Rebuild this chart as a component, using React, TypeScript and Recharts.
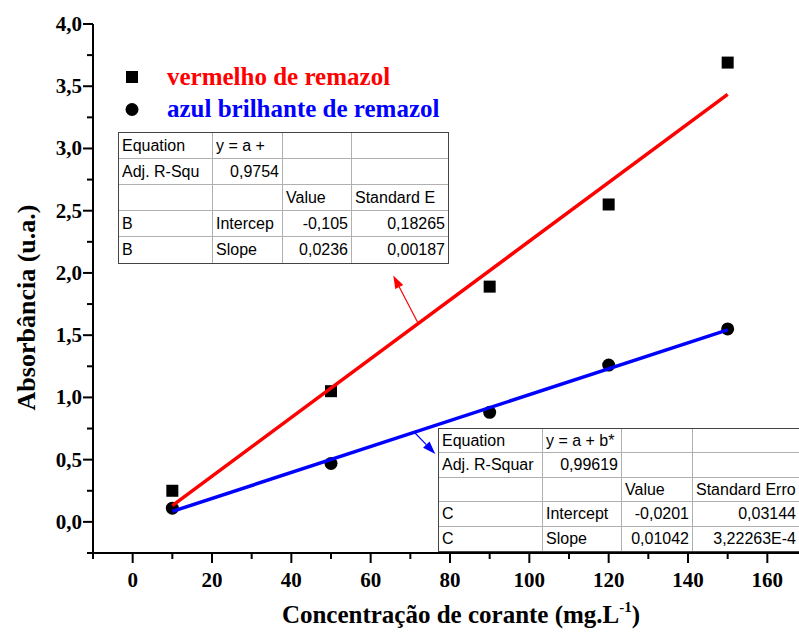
import { ComposedChart, Line, Scatter, XAxis, YAxis, ReferenceLine } from 'recharts';

const concentrations = [10, 50, 90, 120, 150];
const redAbsorbance = [0.25, 1.05, 1.89, 2.55, 3.69];
const blueAbsorbance = [0.11, 0.47, 0.88, 1.26, 1.55];

// linear fit parameters as reported in the stats tables
const redIntercept = -0.105;
const redSlope = 0.0236;
const blueIntercept = -0.0201;
const blueSlope = 0.01042;
const fitRange = [10, 150];

const xTicks = [-10, 0, 10, 20, 30, 40, 50, 60, 70, 80, 90, 100, 110, 120, 130, 140, 150, 160, 170];
const yTicks = [-0.25, 0, 0.25, 0.5, 0.75, 1, 1.25, 1.5, 1.75, 2, 2.25, 2.5, 2.75, 3, 3.25, 3.5, 3.75, 4];

// callout arrows: [line point, tip near table]
const redArrow = [{ x: 72, y: 1.594 }, { x: 65.7, y: 1.98 }];
const blueArrow = [{ x: 71, y: 0.72 }, { x: 76.3, y: 0.545 }];

const redTableRows = [
  ['Equation', 'y = a +', '', ''],
  ['Adj. R-Squ', '0,9754', '', ''],
  ['', '', 'Value', 'Standard E'],
  ['B', 'Intercep', '-0,105', '0,18265'],
  ['B', 'Slope', '0,0236', '0,00187'],
];
const blueTableRows = [
  ['Equation', 'y = a + b*', '', ''],
  ['Adj. R-Squar', '0,99619', '', ''],
  ['', '', 'Value', 'Standard Erro'],
  ['C', 'Intercept', '-0,0201', '0,03144'],
  ['C', 'Slope', '0,01042', '3,22263E-4'],
];

const redPoints = concentrations.map((x, i) => ({ x, y: redAbsorbance[i] }));
const bluePoints = concentrations.map((x, i) => ({ x, y: blueAbsorbance[i] }));
const redFit = fitRange.map((x) => ({ x, y: redIntercept + redSlope * x }));
const blueFit = fitRange.map((x) => ({ x, y: blueIntercept + blueSlope * x }));

const SERIF = '"Liberation Serif", "Times New Roman", serif';
const SANS = '"Liberation Sans", Arial, sans-serif';

function BottomTick({ x, y, payload }: any) {
  const v = payload.value;
  const major = v % 20 === 0 && v >= 0 && v <= 160;
  return (
    <g>
      <line x1={x} x2={x} y1={y} y2={y + (major ? 10 : 6)} stroke="#000" strokeWidth={2} />
      {major && (
        <text x={x} y={y + 34} textAnchor="middle" fontFamily={SERIF} fontWeight="bold" fontSize={21} fill="#000">
          {v}
        </text>
      )}
    </g>
  );
}

function TopTick({ x, y }: any) {
  return <line x1={x} x2={x} y1={y} y2={y + 3} stroke="#000" strokeWidth={1} />;
}

function LeftTick({ x, y, payload }: any) {
  const v = payload.value;
  const major = Math.abs(v * 2 - Math.round(v * 2)) < 1e-6;
  return (
    <g>
      <line x1={x} x2={x - (major ? 10 : 6)} y1={y} y2={y} stroke="#000" strokeWidth={2} />
      {major && (
        <text x={x - 11} y={y + 7} textAnchor="end" fontFamily={SERIF} fontWeight="bold" fontSize={21} fill="#000">
          {v.toFixed(1).replace('.', ',')}
        </text>
      )}
    </g>
  );
}

function XTitle({ viewBox }: any) {
  const cx = viewBox.x + viewBox.width / 2 + 11;
  return (
    <text x={cx} y={viewBox.y + 70} textAnchor="middle" fontFamily={SERIF} fontWeight="bold" fontSize={25} fill="#000">
      Concentração de corante (mg.L
      <tspan fontSize={15} dy={-11}>-1</tspan>
      <tspan dy={11}>)</tspan>
    </text>
  );
}

function YTitle({ viewBox }: any) {
  const cx = 35;
  const cy = viewBox.y + viewBox.height / 2 + 19;
  return (
    <text
      x={cx}
      y={cy}
      transform={`rotate(-90, ${cx}, ${cy})`}
      textAnchor="middle"
      fontFamily={SERIF}
      fontWeight="bold"
      fontSize={26}
      fill="#000"
    >
      Absorbância (u.a.)
    </text>
  );
}

function SquareDot({ cx, cy }: any) {
  return <rect x={cx - 6} y={cy - 6} width={12} height={12} fill="#000" />;
}

function RoundDot({ cx, cy }: any) {
  return <circle cx={cx} cy={cy} r={6.5} fill="#000" />;
}

function ArrowShape({ x1, y1, x2, y2, stroke }: any) {
  const ang = Math.atan2(y2 - y1, x2 - x1);
  const len = 13;
  const half = 4.5;
  const bx = x2 - len * Math.cos(ang);
  const by = y2 - len * Math.sin(ang);
  const pts = [
    [x2, y2],
    [bx + half * Math.sin(ang), by - half * Math.cos(ang)],
    [bx - half * Math.sin(ang), by + half * Math.cos(ang)],
  ]
    .map((p) => p.join(','))
    .join(' ');
  return (
    <g>
      <line x1={x1} y1={y1} x2={bx} y2={by} stroke={stroke} strokeWidth={1.2} />
      <polygon points={pts} fill={stroke} />
    </g>
  );
}

function StatsTable({ rows, left, top, widths, rowH, fontSize }: any) {
  const isNum = (s: string) => /^-?[\d,]+(E-?\d+)?$/.test(s);
  return (
    <div
      style={{
        position: 'absolute',
        left,
        top,
        border: '1.5px solid #444',
        background: '#fff',
        fontFamily: SANS,
        fontSize,
        color: '#000',
      }}
    >
      {rows.map((row: string[], r: number) => (
        <div key={r} style={{ display: 'flex' }}>
          {row.map((cell, c) => (
            <div
              key={c}
              style={{
                width: widths[c],
                height: rowH,
                lineHeight: `${rowH}px`,
                boxSizing: 'border-box',
                borderRight: c < row.length - 1 ? '1px solid #b0b0b0' : 'none',
                borderBottom: r < rows.length - 1 ? '1px solid #b0b0b0' : 'none',
                padding: '0 3px',
                overflow: 'hidden',
                whiteSpace: 'nowrap',
                textAlign: isNum(cell) ? 'right' : 'left',
              }}
            >
              {cell}
            </div>
          ))}
        </div>
      ))}
    </div>
  );
}

export default function App() {
  return (
    <div
      style={{
        position: 'absolute',
        left: 0,
        top: 0,
        width: 799,
        height: 633,
        overflow: 'hidden',
        background: '#fff',
      }}
    >
      <ComposedChart width={830} height={633} margin={{ top: 24, right: 23, bottom: 50, left: 0 }}>
        <XAxis
          xAxisId="b"
          dataKey="x"
          type="number"
          domain={[-10, 170]}
          ticks={xTicks}
          interval={0}
          allowDataOverflow
          height={30}
          tickSize={0}
          tickMargin={0}
          tickLine={false}
          axisLine={{ stroke: '#000', strokeWidth: 2 }}
          tick={<BottomTick />}
          label={<XTitle />}
        />
        <XAxis
          xAxisId="t"
          orientation="top"
          dataKey="x"
          type="number"
          domain={[-10, 170]}
          ticks={xTicks}
          interval={0}
          allowDataOverflow
          height={0}
          tickSize={0}
          tickMargin={0}
          tickLine={false}
          axisLine={{ stroke: '#000', strokeWidth: 2 }}
          tick={<TopTick />}
        />
        <YAxis
          dataKey="y"
          type="number"
          domain={[-0.25, 4]}
          ticks={yTicks}
          interval={0}
          allowDataOverflow
          width={93}
          tickSize={0}
          tickMargin={0}
          tickLine={false}
          axisLine={{ stroke: '#000', strokeWidth: 2 }}
          tick={<LeftTick />}
          label={<YTitle />}
        />
        <Scatter xAxisId="b" data={redPoints} shape={<SquareDot />} isAnimationActive={false} />
        <Scatter xAxisId="b" data={bluePoints} shape={<RoundDot />} isAnimationActive={false} />
        <Line
          xAxisId="b"
          data={redFit}
          dataKey="y"
          type="linear"
          stroke="#ff0000"
          strokeWidth={3.5}
          dot={false}
          activeDot={false}
          isAnimationActive={false}
          zIndex={700}
        />
        <Line
          xAxisId="b"
          data={blueFit}
          dataKey="y"
          type="linear"
          stroke="#0000ff"
          strokeWidth={3.5}
          dot={false}
          activeDot={false}
          isAnimationActive={false}
          zIndex={700}
        />
        <ReferenceLine xAxisId="b" segment={redArrow} stroke="#ff0000" shape={ArrowShape} />
        <ReferenceLine xAxisId="b" segment={blueArrow} stroke="#0000ff" shape={ArrowShape} />
      </ComposedChart>

      <svg width={799} height={633} style={{ position: 'absolute', left: 0, top: 0, pointerEvents: 'none' }}>
        <rect x={126} y={71} width={12} height={12} fill="#000" />
        <text x={167} y={85} fontFamily={SERIF} fontWeight="bold" fontSize={25} fill="#ff0000">
          vermelho de remazol
        </text>
        <circle cx={132} cy={109.5} r={6.5} fill="#000" />
        <text x={167} y={116.5} fontFamily={SERIF} fontWeight="bold" fontSize={25} fill="#0000ff">
          azul brilhante de remazol
        </text>
      </svg>

      <StatsTable rows={redTableRows} left={118} top={132} widths={[94, 70, 69, 96]} rowH={26} fontSize={16} />
      <StatsTable rows={blueTableRows} left={438} top={428} widths={[104, 79, 71, 106]} rowH={24.4} fontSize={16} />
    </div>
  );
}
